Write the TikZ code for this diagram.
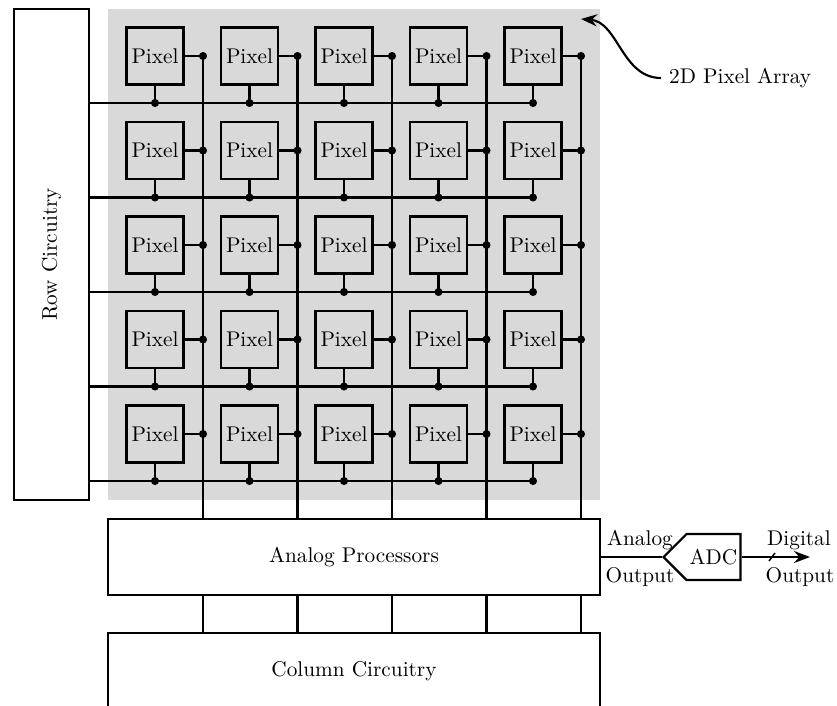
\documentclass[tikz,border=0pt]{standalone}
\usetikzlibrary{arrows.meta,shapes.symbols}
\begin{document}
\begin{tikzpicture}[x=0.47pt,y=-0.47pt,line width=1pt,
  pixbox/.style={draw,fill=gray!30,minimum size=26.8pt,inner sep=0pt},
  bigbox/.style={draw,fill=white,minimum width=231.2pt,minimum height=35.7pt},
  dot/.style={circle,fill,inner sep=0pt,minimum size=3.8pt}]
\useasboundingbox (0,0) rectangle (837,706);
\fill[gray!30] (108,9) rectangle (600,500);
% boxes
\node[draw,minimum width=35.2pt,minimum height=230.8pt] (rc) at (51.5,254.5) {};
\node[rotate=90] (rct) at (rc) {Row Circuitry};
\node[bigbox] (ap) at (354,557) {Analog Processors};
\node[bigbox] (cc) at (354,671) {Column Circuitry};
% rows and columns
\foreach \i in {1,...,5}{
  \coordinate (r\i) at (533,{56+(\i-1)*94.5+47});
  \draw (rc.east |- r\i) -- (r\i);
}
\foreach \j in {1,...,5}{
  \coordinate (c\j) at ({155+(\j-1)*94.5+48},56);
  \draw (c\j) -- (c\j |- ap.north);
  \draw (c\j |- ap.south) -- (c\j |- cc.north);
}
% pixels
\foreach \i in {1,...,5}{
  \foreach \j in {1,...,5}{
    \node[pixbox] (p\i\j) at ({155+(\j-1)*94.5},{56+(\i-1)*94.5}) {Pixel};
    \draw (p\i\j.east) -- (p\i\j.east -| c\j) node[dot] {};
    \draw (p\i\j.south) -- (p\i\j.south |- r\i) node[dot] {};
  }
}
% ADC
\node[draw,signal,signal to=west,minimum width=36.2pt,minimum height=21.6pt,inner sep=1pt] (adc) at (713.5,557) {ADC};
\draw (ap.east) -- (adc.west);
\coordinate (dout) at (810,557);
\coordinate (sl) at (772,557);
\draw[-{Stealth}] (adc.east) -- (dout);
\draw[line width=0.7pt] (sl) +(-3,4) -- +(3,-4);
\node (al) at (640,540) {Analog};
\node (ao) at (640,577) {Output};
\node (dl) at (799,540) {Digital};
\node (do) at (800,577) {Output};
% annotation
\coordinate (tip) at (581,19);
\node[anchor=west] (lab) at (661,78) {2D Pixel Array};
\draw[-{Stealth}] (lab.west) .. controls (622,78) and (618,22) .. (tip);
\end{tikzpicture}
\end{document}
